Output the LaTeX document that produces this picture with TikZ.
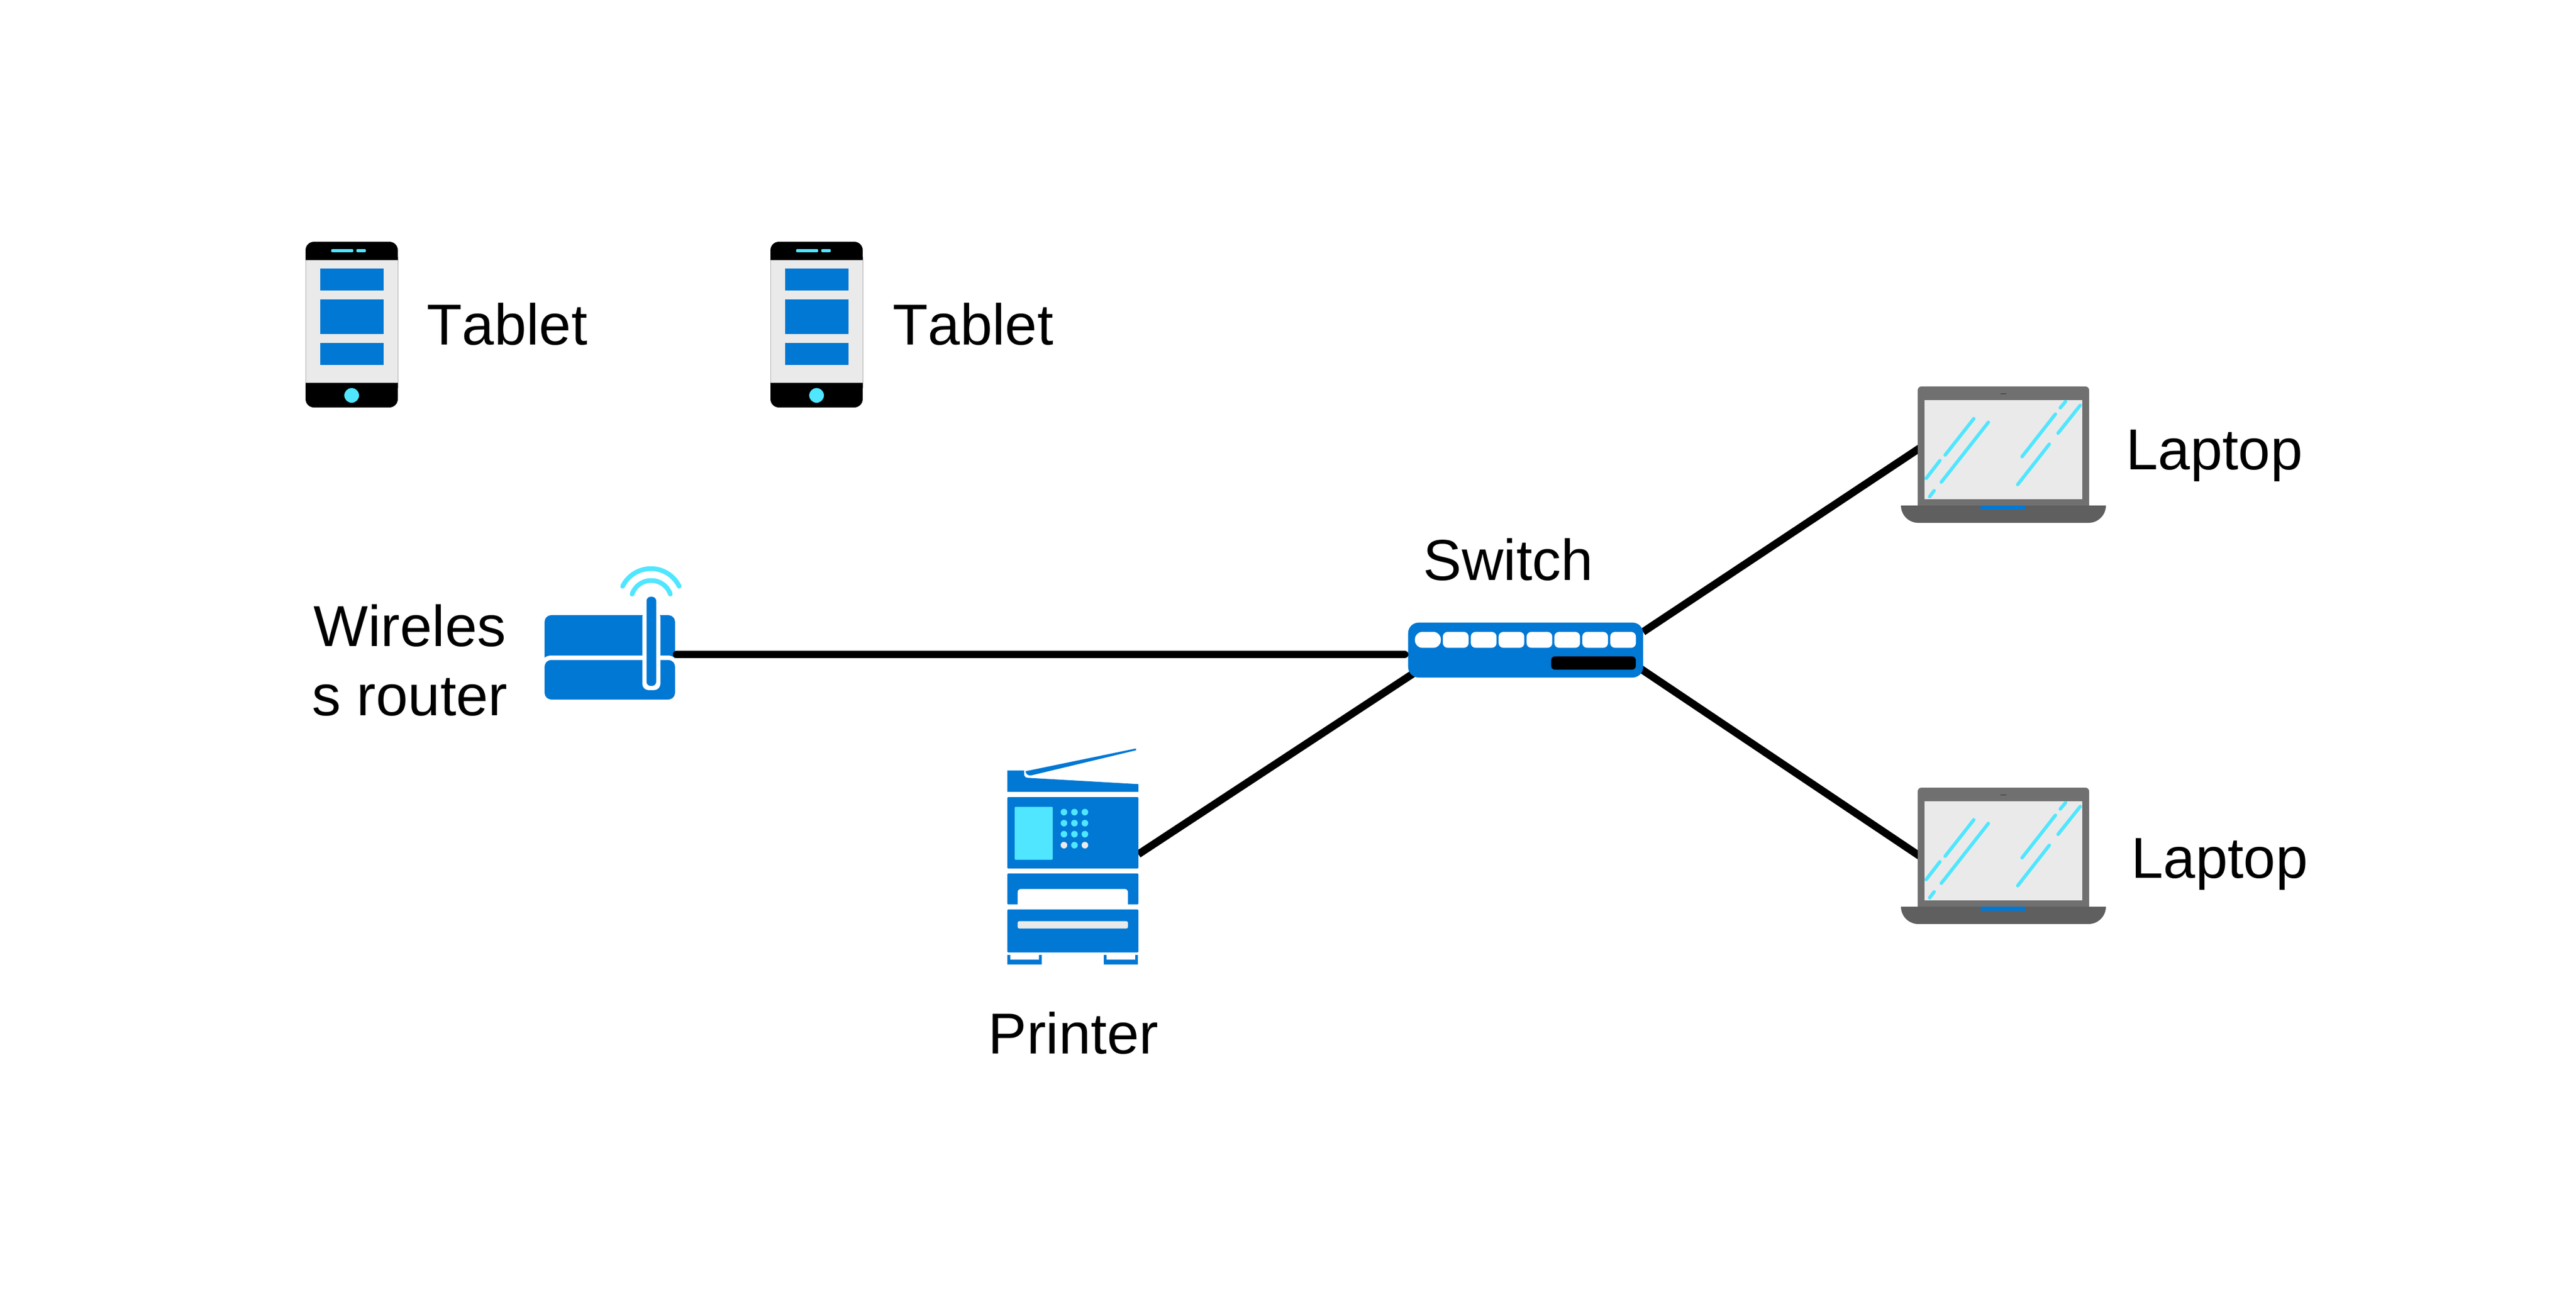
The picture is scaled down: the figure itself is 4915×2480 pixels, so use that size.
\documentclass[tikz,border=0pt]{standalone}
\usepackage{fontspec}
\setmainfont[Kerning=Off]{Liberation Sans}
\definecolor{azblue}{HTML}{0078D4}
\definecolor{azcyan}{HTML}{50E6FF}
\definecolor{azpale}{HTML}{EAEAEA}
\definecolor{azgrey}{HTML}{707070}
\definecolor{azdark}{HTML}{5F5F5F}
\tikzset{
  wire/.style={draw=black,line width=14.5*0.01cm,line cap=round},
  wirebutt/.style={draw=black,line width=14.5*0.01cm,line cap=butt},
  lbl/.style={font=\fontsize{31.3}{37.65}\selectfont,text=black,inner sep=0pt,anchor=base west},
  glint/.style={draw=azcyan,line width=6.5*0.01cm,line cap=round},
  wave/.style={draw=azcyan,line width=9*0.01cm,line cap=round},
  bluefill/.style={fill=azblue,draw=none},
  device/.style={inner sep=0pt,draw=none,fill=none},
}
\newcommand{\tableticon}[2]{%
 \begin{scope}[shift={(#1,#2)}]
  \fill[azpale] (583,490) rectangle (759,740);
  \draw[gray!70,line width=0.005cm] (583,490) -- (583,740) (759,490) -- (759,740);
  \fill[black] (583,496) [rounded corners=0.16cm] -- (583,461) -- (759,461) [sharp corners] -- (759,496) -- cycle;
  \fill[black] (583,730) [rounded corners=0.16cm] -- (583,777) -- (759,777) [sharp corners] -- (759,730) -- cycle;
  \fill[azblue] (611,512) rectangle (732,553.5);
  \fill[azblue] (611,571) rectangle (732,637);
  \fill[azblue] (611,654) rectangle (732,696);
  \fill[azcyan,rounded corners=0.02cm] (632,475) rectangle (674,481);
  \fill[azcyan,rounded corners=0.02cm] (680,475) rectangle (698,481);
  \fill[azcyan] (671,754) circle[radius=14];
 \end{scope}}
\newcommand{\laptopicon}[2]{%
 \begin{scope}[shift={(#1,#2)}]
  \fill[azgrey] (3659,964) [rounded corners=0.07cm] -- (3659,737) -- (3986,737) [sharp corners] -- (3986,964) -- cycle;
  \fill[azpale] (3672,763) rectangle (3973,951.5);
  \fill[azdark] (3627,964) -- (4018,964) arc[start angle=0,end angle=90,radius=33] -- (3660,997) arc[start angle=90,end angle=180,radius=33] -- cycle;
  \fill[azblue] (3779,964) rectangle (3865,971.5);
  \fill[black!70] (3817,749.5) rectangle (3828,751.5);
  \draw[glint] (3766,798.3) -- (3711.3,867.7);
  \draw[glint] (3793.7,805.3) -- (3704,919.3);
  \draw[glint] (3701.3,878.3) -- (3675,912.3);
  \draw[glint] (3690.3,935.7) -- (3681.7,947);
  \draw[glint] (3921.7,789.7) -- (3858,870.7);
  \draw[glint] (3910,847) -- (3849.7,924);
  \draw[glint] (3941,765.7) -- (3931,777.7);
  \draw[glint] (3969,773) -- (3926.7,826);
 \end{scope}}
\begin{document}
\begin{tikzpicture}[x=0.01cm,y=-0.01cm]
\useasboundingbox (0,0) rectangle (4915,2480);
% connection points
\node[device,minimum width=2.49cm,minimum height=1.72cm] (router) at (1163.5,1248) {};
\node[device,minimum width=4.48cm,minimum height=1.05cm] (switch) at (2911,1239.5) {};
\node[device,minimum width=2.50cm,minimum height=4.12cm] (printer) at (2047,1633) {};
\node[device,minimum width=3.91cm,minimum height=2.60cm] (laptopa) at (3822.5,867) {};
\node[device,minimum width=3.91cm,minimum height=2.60cm] (laptopb) at (3822.5,1632) {};
\coordinate (routerport) at (1291,1248);
\coordinate (switchw) at (2680,1248);
\coordinate (switchsw) at (2700,1282);
\coordinate (printerport) at (2172,1629);
\coordinate (switchne) at (3135,1205);
\coordinate (laptopaport) at (3665,853);
\coordinate (switchse) at (3130,1275);
\coordinate (laptopbport) at (3665,1634);
% connectors below icons
\draw[wirebutt] (printerport) -- (switchsw);
\draw[wirebutt] (switchne) -- (laptopaport);
\draw[wirebutt] (switchse) -- (laptopbport);
% tablets
\tableticon{0}{0}
\tableticon{887}{0}
% router
\draw[wave] (1188,1118) arc[start angle=-154,end angle=-26,radius=60];
\draw[wave] (1206,1133) arc[start angle=-161,end angle=-19,radius=38.6];
\fill[bluefill] (1039,1254) .. controls (1043,1251) and (1047,1250) .. (1052,1250) -- (1275,1250) .. controls (1281,1250) and (1285,1252) .. (1288,1256) [rounded corners=0.13cm] -- (1288,1173) -- (1039,1173) [sharp corners] -- cycle;
\fill[bluefill,rounded corners=0.13cm] (1039,1258.5) rectangle (1288,1334);
\fill[white,rounded corners=0.12cm] (1225.5,1165) rectangle (1260,1316);
\fill[azblue,rounded corners=0.08cm] (1233.5,1138) rectangle (1252,1308);
% printer
\fill[bluefill] (1922,1469.3) -- (1954,1469.3) -- (1954,1476) .. controls (1954,1481) and (1957,1483) .. (1961.7,1483.3) -- (2172,1495.3) -- (2172,1510) -- (1922,1510) -- cycle;
\fill[bluefill] (1956.7,1470.7) -- (2167.3,1427.3) -- (2167.7,1430.7) -- (1967.3,1478.7) .. controls (1962,1479.5) and (1957,1476) .. cycle;
\fill[bluefill,rounded corners=0.02cm] (1922,1520) rectangle (2172,1656.3);
\fill[azcyan,rounded corners=0.02cm] (1936,1538.5) rectangle (2008.7,1639.5);
\foreach \yy in {1548.7,1569.7,1590.7}{\foreach \xx in {2030,2050,2070}{\fill[azcyan] (\xx,\yy) circle[radius=6.3];}}
\fill[azpale] (2030,1611.7) circle[radius=6.3];
\fill[azcyan] (2050,1611.7) circle[radius=6.3];
\fill[azpale] (2070,1611.7) circle[radius=6.3];
\fill[bluefill,rounded corners=0.02cm] (1922,1665.7) rectangle (2172,1724.7);
\fill[white,rounded corners=0.06cm] (1941.7,1695.3) rectangle (2152,1740);
\fill[white] (1915,1724.7) rectangle (2180,1734.3);
\fill[bluefill,rounded corners=0.02cm] (1922,1734.3) rectangle (2172,1816.3);
\fill[azpale,rounded corners=0.03cm] (1941.7,1756.7) rectangle (2152,1770.7);
\fill[bluefill] (1922,1821) -- (1927.7,1821) -- (1927.7,1830) -- (1982.3,1830) -- (1982.3,1821) -- (1987.7,1821) -- (1987.7,1839.3) -- (1922,1839.3) -- cycle;
\fill[bluefill] (2106,1821) -- (2111.3,1821) -- (2111.3,1830) -- (2166,1830) -- (2166,1821) -- (2171,1821) -- (2171,1839.3) -- (2106,1839.3) -- cycle;
% switch
\fill[bluefill,rounded corners=0.2cm] (2686.7,1187.3) rectangle (3135,1292);
\fill[white,rounded corners=0.14cm] (2699.7,1205) rectangle (2749,1235.3);
\foreach \xx in {2753,2806.3,2859.3,2912.7,2965.7,3019,3072.3}{\fill[white,rounded corners=0.09cm] (\xx,1205) rectangle ++(49,30.3);}
\fill[black,rounded corners=0.07cm] (2959.7,1251.7) rectangle (3121,1277);
% laptops
\laptopicon{0}{0}
\laptopicon{0}{765}
% wire over router
\draw[wire] (routerport) -- (switchw);
% labels
\node[lbl] (tablet1) at (814,657) {Tablet};
\node[lbl] (tablet2) at (1703,657) {Tablet};
\node[lbl,anchor=center,align=center] (routerlabel) at (782,1259) {Wireles\\s router};
\node[lbl] (switchlabel) at (2715,1106) {Switch};
\node[lbl] (printerlabel) at (1885,2009) {Printer};
\node[lbl] (laptop1) at (4056,895) {Laptop};
\node[lbl] (laptop2) at (4066,1674) {Laptop};
\end{tikzpicture}
\end{document}
